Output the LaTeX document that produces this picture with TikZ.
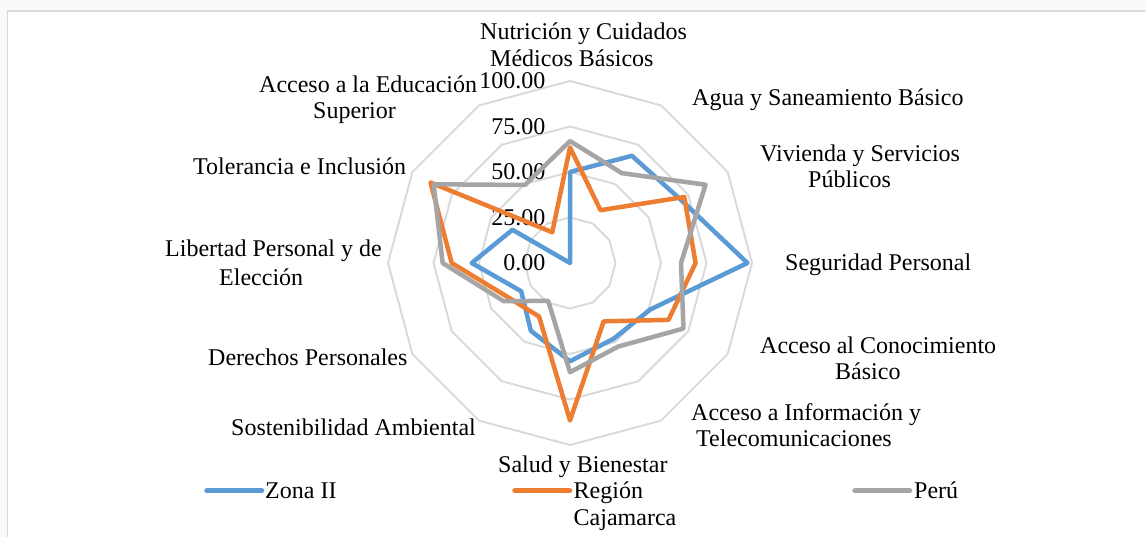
\documentclass[tikz,border=0pt]{standalone}
\usepackage{fontspec}
\setmainfont{Liberation Serif}
\definecolor{zblue}{HTML}{5B9BD5}
\definecolor{zorange}{HTML}{ED7D31}
\definecolor{zgrey}{HTML}{A5A5A5}
\definecolor{gridc}{HTML}{D9D9D9}
\definecolor{outerbg}{HTML}{FAFAFA}
\begin{document}
\begin{tikzpicture}[x=1pt,y=1pt,
  lab/.style={anchor=base west, inner sep=0pt, font=\fontsize{24}{26}\selectfont},
  vallab/.style={anchor=east, inner sep=0pt, font=\fontsize{24}{26}\selectfont},
  gridline/.style={draw=gridc, line width=1.9pt},
  series/.style={line width=4.5pt, line join=round},
  legline/.style={line width=5.5pt, line cap=round}]
\useasboundingbox (0,0) rectangle (1145,-537);
\fill[white] (0,0) rectangle (1145,-537);
\fill[outerbg] (0,0) rectangle (1145,-11);
\fill[outerbg] (0,0) rectangle (7,-537);
\draw[draw=gridc, line width=1.5pt] (7.3,-537) -- (7.3,-11) -- (1145,-11);

\begin{scope}[shift={(570,-263)}]
  % grid rings
  \foreach \r in {45.5,91,136.5,182}
    \draw[gridline] (90:\r) -- (60:\r) -- (30:\r) -- (0:\r) -- (-30:\r) -- (-60:\r)
      -- (-90:\r) -- (-120:\r) -- (-150:\r) -- (180:\r) -- (150:\r) -- (120:\r) -- cycle;
  % value labels
  \node[vallab] (v0) at (-24.5,0) {0.00};
  \node[vallab] (v25) at (-24.5,45.5) {25.00};
  \node[vallab] (v50) at (-24.5,91) {50.00};
  \node[vallab] (v75) at (-24.5,136.5) {75.00};
  \node[vallab] (v100) at (-24.5,182) {100.00};
  % data points
  \foreach \v [count=\i from 0] in {50,68,70,97.5,51,48,54,43,31,54,36.5,0}
    \coordinate (b\i) at ({90-30*\i}:{1.82*\v});
  \foreach \v [count=\i from 0] in {63.5,33.5,72.5,69,62.5,37,86.5,34,38.5,65,88.5,19.5}
    \coordinate (o\i) at ({90-30*\i}:{1.82*\v});
  \foreach \v [count=\i from 0] in {67,57,86,61,72,53,60,24,42,70,86.5,49.5}
    \coordinate (g\i) at ({90-30*\i}:{1.82*\v});
  \draw[series, zblue] (b0) -- (b1) -- (b2) -- (b3) -- (b4) -- (b5) -- (b6) -- (b7) -- (b8) -- (b9) -- (b10) -- (b11) -- cycle;
  \draw[series, zorange] (o0) -- (o1) -- (o2) -- (o3) -- (o4) -- (o5) -- (o6) -- (o7) -- (o8) -- (o9) -- (o10) -- (o11) -- cycle;
  \draw[series, zgrey] (g0) -- (g1) -- (g2) -- (g3) -- (g4) -- (g5) -- (g6) -- (g7) -- (g8) -- (g9) -- (g10) -- (g11) -- cycle;
\end{scope}

% category labels
\node[lab] (c1a) at (480,-40) {Nutrición y Cuidados};
\node[lab] (c1b) at (490,-66.5) {Médicos Básicos};
\node[lab] (c2) at (692,-106) {Agua y Saneamiento Básico};
\node[lab] (c3a) at (760,-162) {Vivienda y Servicios};
\node[lab] (c3b) at (808,-188) {Públicos};
\node[lab] (c4) at (785,-271) {Seguridad Personal};
\node[lab] (c5a) at (760,-353) {Acceso al Conocimiento};
\node[lab] (c5b) at (835,-379) {Básico};
\node[lab] (c6a) at (691,-420) {Acceso a Información y};
\node[lab] (c6b) at (696,-446) {Telecomunicaciones};
\node[lab] (c7) at (498,-472) {Salud y Bienestar};
\node[lab] (c8) at (231,-435) {Sostenibilidad Ambiental};
\node[lab] (c9) at (208,-365) {Derechos Personales};
\node[lab] (c10a) at (165,-257) {Libertad Personal y de};
\node[lab] (c10b) at (219,-285) {Elección};
\node[lab] (c11) at (193,-175) {Tolerancia e Inclusión};
\node[lab] (c12a) at (259,-93) {Acceso a la Educación};
\node[lab] (c12b) at (313,-119) {Superior};

% legend
\coordinate (lb1) at (207,-490.7); \coordinate (lb2) at (261.5,-490.7);
\coordinate (lo1) at (515,-490.7); \coordinate (lo2) at (569.5,-490.7);
\coordinate (lg1) at (855,-490.7); \coordinate (lg2) at (909.5,-490.7);
\draw[legline, zblue] (lb1) -- (lb2);
\draw[legline, zorange] (lo1) -- (lo2);
\draw[legline, zgrey] (lg1) -- (lg2);
\node[lab] (l1) at (265,-498) {Zona II};
\node[lab] (l2a) at (573.5,-498) {Región};
\node[lab] (l2b) at (573.5,-525) {Cajamarca};
\node[lab] (l3) at (914,-498) {Perú};
\end{tikzpicture}
\end{document}
